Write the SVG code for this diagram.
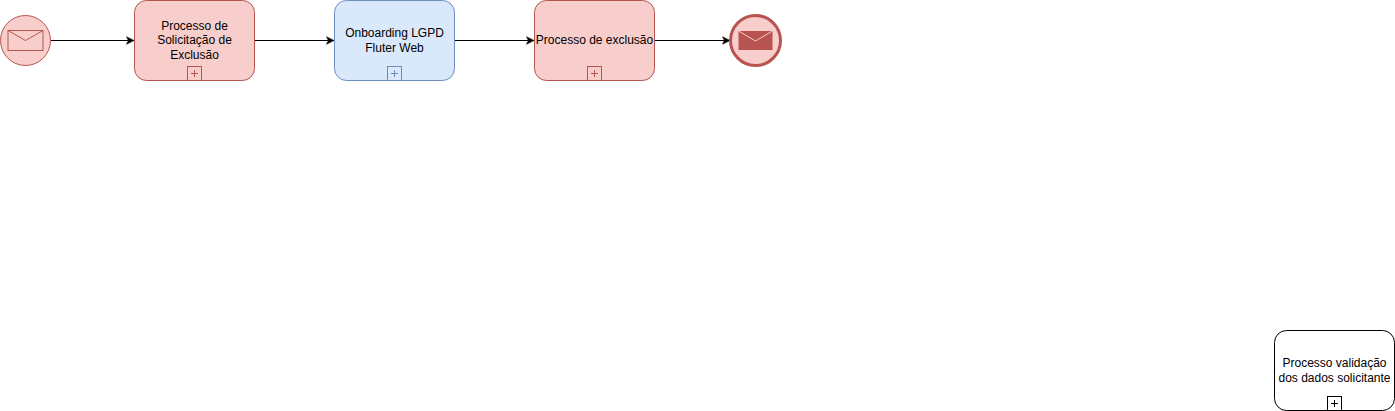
<svg xmlns="http://www.w3.org/2000/svg" width="1395" height="411" viewBox="0 0 1395 411">
<style>
text{font-family:"Liberation Sans",Arial,sans-serif;font-size:12px;fill:#000;text-anchor:middle}
.red{fill:#f8cecc;stroke:#b85450}
.blue{fill:#dae8fc;stroke:#6c8ebf}
.blk{fill:#fff;stroke:#000}
.sw{stroke-width:1}
.plus{fill:none;stroke-width:1}
.conn{fill:none;stroke:#000;stroke-width:1;marker-end:url(#arrow)}
</style>
<defs>
<marker id="arrow" markerUnits="userSpaceOnUse" markerWidth="9" markerHeight="9" refX="8" refY="4.5" orient="auto">
<path d="M0.5 0.8L8 4.5L0.5 8.2L2.4 4.5Z" fill="#000" stroke="#000" stroke-width="0.6"/>
</marker>
</defs>
<g id="connectors">
<path class="conn" d="M50.5 40.5H134"/>
<path class="conn" d="M254.500 40.500H334"/>
<path class="conn" d="M454.500 40.500H534"/>
<path class="conn" d="M654.500 40.500H730"/>
</g>
<g id="start-event">
<circle class="red" cx="25.500" cy="40.500" r="25"/>
<rect x="8" y="30.500" width="35" height="20" fill="none" stroke="#b85450"/>
<path d="M8 30.500L25.500 40.500L43 30.500" fill="none" stroke="#b85450"/>
</g>
<g id="task-solicitacao">
<rect class="red" x="134.500" y="0.500" width="120" height="80" rx="12" ry="12"/>
<text x="194.500" y="30">Processo de</text>
<text x="194.500" y="44">Solicitação de</text>
<text x="194.500" y="59">Exclusão</text>
<rect class="red" x="187.500" y="66.500" width="14" height="14"/>
<path d="M194.500 70V77M191 73.500H198" class="plus" stroke="#b85450"/>
</g>
<g id="task-onboarding">
<rect class="blue" x="334.500" y="0.500" width="120" height="80" rx="12" ry="12"/>
<text x="394.500" y="37">Onboarding LGPD</text>
<text x="394.500" y="52">Fluter Web</text>
<rect class="blue" x="387.500" y="66.500" width="14" height="14"/>
<path d="M394.500 70V77M391 73.500H398" class="plus" stroke="#6c8ebf"/>
</g>
<g id="task-exclusao">
<rect class="red" x="534.500" y="0.500" width="120" height="80" rx="12" ry="12"/>
<text x="594.500" y="44">Processo de exclusão</text>
<rect class="red" x="587.500" y="66.500" width="14" height="14"/>
<path d="M594.500 70V77M591 73.500H598" class="plus" stroke="#b85450"/>
</g>
<g id="end-event">
<circle class="red" cx="755.500" cy="40.500" r="25" stroke-width="3"/>
<path d="M738.500 31H772.500V50H738.500Z" fill="#b85450"/>
<path d="M738.500 31L755.500 41L772.500 31" fill="none" stroke="#f8cecc"/>
</g>
<g id="task-validacao">
<rect class="blk" x="1274.500" y="330.500" width="120" height="80" rx="12" ry="12"/>
<text x="1334.500" y="367">Processo validação</text>
<text x="1334.500" y="382">dos dados solicitante</text>
<rect class="blk" x="1327.500" y="396.500" width="14" height="14"/>
<path d="M1334.500 400V407M1331 403.500H1338" class="plus" stroke="#000"/>
</g>
</svg>
